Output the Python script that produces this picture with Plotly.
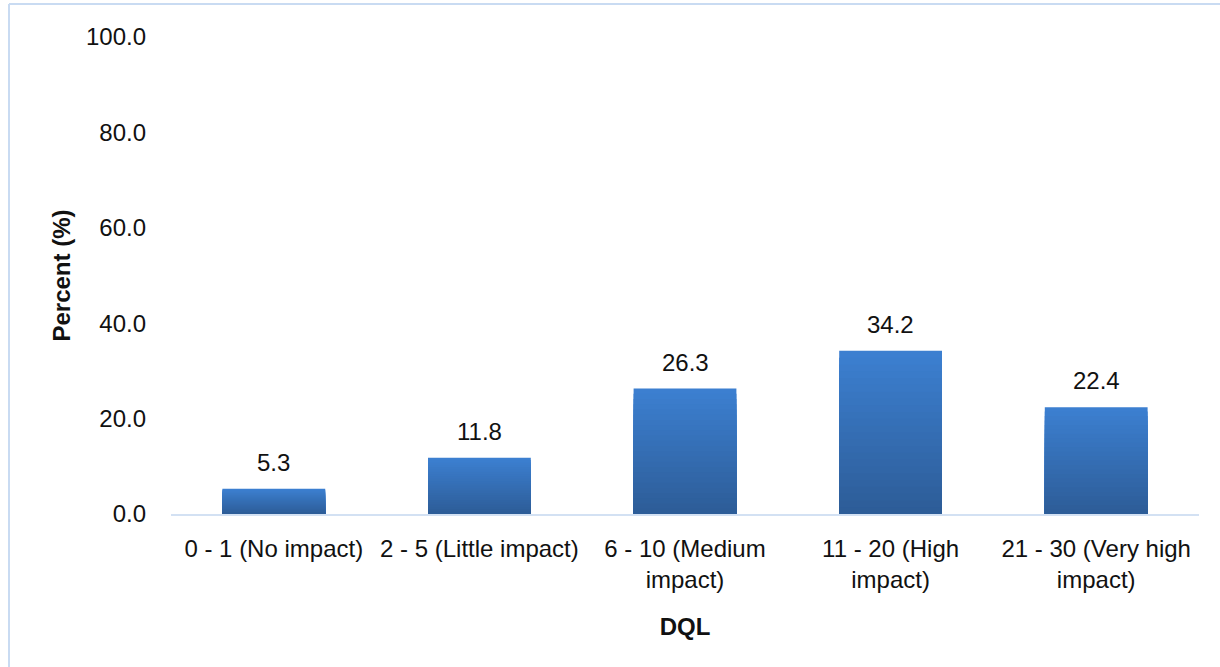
import plotly.graph_objects as go

# DQL score bands and share of respondents in each band
categories = [
    "0 - 1 (No impact)",
    "2 - 5 (Little impact)",
    "6 - 10 (Medium<br>impact)",
    "11 - 20 (High<br>impact)",
    "21 - 30 (Very high<br>impact)",
]
percent = [5.3, 11.8, 26.3, 34.2, 22.4]
y_ticks = [0, 20, 40, 60, 80, 100]

FONT = "Liberation Sans, Arial, sans-serif"
TOP_COLOR = (60, 127, 208)
BOTTOM_COLOR = (45, 93, 152)
STEPS = 24

PLOT_L, PLOT_R, PLOT_T, PLOT_B = 171, 1199, 37, 514
PLOT_W, PLOT_H = PLOT_R - PLOT_L, PLOT_B - PLOT_T


def blend(t):
    r, g, b = (round(a + (b_ - a) * t) for a, b_ in zip(TOP_COLOR, BOTTOM_COLOR))
    return f"rgb({r},{g},{b})"


fig = go.Figure()

# Vertical shading: overlaid bars, each a little shorter and darker than the last
for i in range(STEPS):
    frac = (STEPS - i) / STEPS
    fig.add_trace(go.Bar(
        x=categories,
        y=[v * frac for v in percent],
        marker=dict(color=blend(i / (STEPS - 1)), line=dict(width=0)),
        hoverinfo="skip" if i else "x+y",
        showlegend=False,
    ))

# Value labels above each bar
for c, v in zip(categories, percent):
    fig.add_annotation(
        x=c, y=v, text=f"{v:.1f}", showarrow=False,
        yanchor="bottom", yshift=11,
        font=dict(family=FONT, size=24, color="#111111"),
    )

# Light frame around the chart (top and left edges)
frame = "#c9dbf2"
fx = (9 - PLOT_L) / PLOT_W
fy = (PLOT_B - 4) / PLOT_H
fig.add_shape(type="line", xref="paper", yref="paper",
              x0=fx, x1=1.1, y0=fy, y1=fy, line=dict(color=frame, width=2))
fig.add_shape(type="line", xref="paper", yref="paper",
              x0=fx, x1=fx, y0=fy, y1=-1, line=dict(color=frame, width=2))

fig.update_layout(
    width=1220,
    height=667,
    margin=dict(l=PLOT_L, r=1220 - PLOT_R, t=PLOT_T, b=667 - PLOT_B),
    paper_bgcolor="white",
    plot_bgcolor="white",
    barmode="overlay",
    bargap=0.5,
    font=dict(family=FONT, size=24, color="#111111"),
    xaxis=dict(
        showline=True, linecolor="#d3e1f3", linewidth=2,
        showgrid=False, ticks="", tickfont=dict(size=24),
        ticklabelstandoff=12,
        title=dict(text="<b>DQL</b>", font=dict(size=24), standoff=26),
    ),
    yaxis=dict(
        range=[0, 100], tickvals=y_ticks,
        ticktext=[f"{t:.1f}" for t in y_ticks],
        showgrid=False, zeroline=False, showline=False, ticks="",
        ticklabelstandoff=24, tickfont=dict(size=24),
        title=dict(text="<b>Percent (%)</b>", font=dict(size=24), standoff=8),
    ),
)

fig.write_html("out.html")
